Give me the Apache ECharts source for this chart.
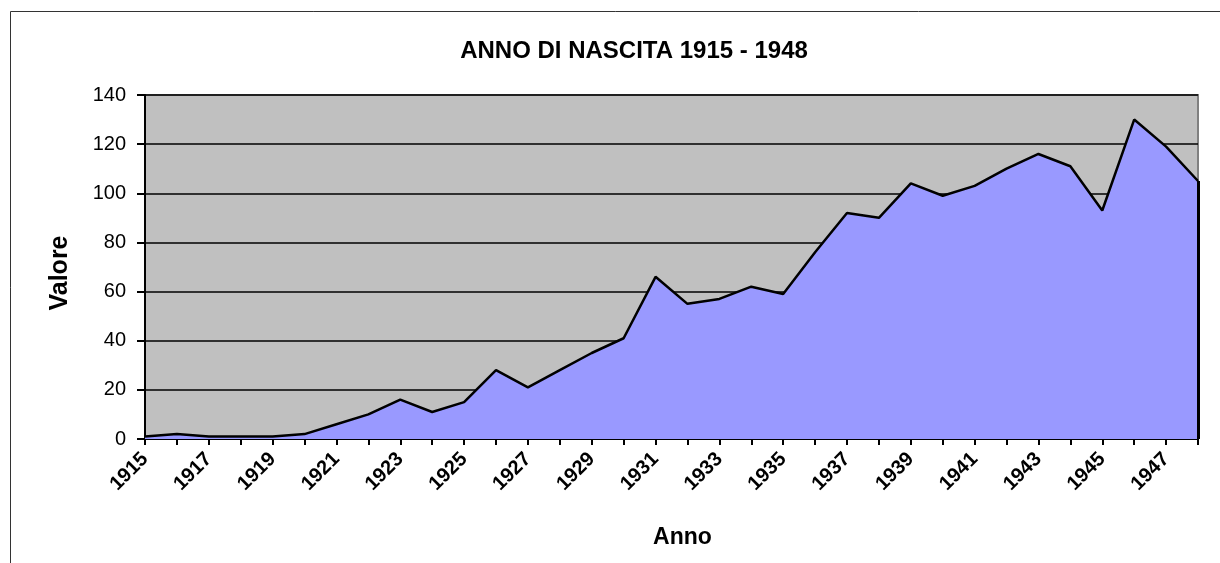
<!DOCTYPE html>
<html>
<head>
<meta charset="utf-8">
<script src="https://cdn.jsdelivr.net/npm/echarts@6/dist/echarts.min.js"></script>
<style>
  html, body { margin: 0; padding: 0; background: #fff; }
  #main { width: 1220px; height: 563px; }
</style>
</head>
<body>
<div id="main"></div>
<script>
// anni 1915 - 1948
var anni = [];
for (var a = 1915; a <= 1948; a++) anni.push(String(a));

// valori
var valori = [1, 2, 1, 1, 1, 2, 6, 10, 16, 11, 15, 28, 21, 28, 35, 41,
              66, 55, 57, 62, 59, 76, 92, 90, 104, 99, 103, 110, 116, 111,
              93, 130, 119, 105];

var yTicks = [0, 20, 40, 60, 80, 100, 120, 140];

var chart = echarts.init(document.getElementById('main'), null, { renderer: 'canvas' });

var font = 'Liberation Sans, Arial, sans-serif';
var ultimo = anni.length - 1;

var option = {
  backgroundColor: '#fff',
  animation: false,
  title: {
    text: 'ANNO DI NASCITA 1915 - 1948',
    left: 629,
    top: 34,
    textAlign: 'center',
    textStyle: { fontFamily: font, fontSize: 24, fontWeight: 'bold', color: '#000' }
  },
  graphic: [{
    type: 'rect',
    shape: { x: 10.5, y: 11.5, width: 1400, height: 800 },
    style: { fill: 'none', stroke: '#333', lineWidth: 1 },
    silent: true
  }],
  grid: {
    left: 145, right: 22, top: 95, bottom: 124,
    show: true,
    backgroundColor: '#C0C0C0',
    borderColor: '#808080',
    borderWidth: 2
  },
  xAxis: {
    type: 'category',
    data: anni,
    boundaryGap: false,
    name: 'Anno',
    nameLocation: 'middle',
    nameGap: 87,
    nameTextStyle: { fontFamily: font, fontSize: 23, fontWeight: 'bold', color: '#000',
                     padding: [0, 0, 0, 22] },
    axisLine: { show: true, lineStyle: { color: '#000', width: 2 } },
    axisTick: { show: true, interval: 0, length: 6, lineStyle: { color: '#000', width: 2 } },
    axisLabel: {
      interval: 1,
      rotate: 45,
      margin: 17,
      fontFamily: font,
      fontSize: 20,
      fontWeight: 'bold',
      color: '#000'
    },
    splitLine: { show: false }
  },
  yAxis: {
    type: 'value',
    min: 0,
    max: yTicks[yTicks.length - 1],
    interval: 20,
    name: 'Valore',
    nameLocation: 'middle',
    nameGap: 72,
    nameRotate: 90,
    nameTextStyle: { fontFamily: font, fontSize: 25, fontWeight: 'bold', color: '#000',
                     padding: [0, 12, 0, 0] },
    axisLine: { show: true, lineStyle: { color: '#000', width: 2 } },
    axisTick: { show: true, length: 8, lineStyle: { color: '#000', width: 2 } },
    axisLabel: { margin: 19, fontFamily: font, fontSize: 20, color: '#000' },
    splitLine: { show: true, lineStyle: { color: '#000', width: 1.5 } }
  },
  series: [{
    type: 'line',
    data: valori,
    symbol: 'none',
    smooth: false,
    lineStyle: { color: '#000', width: 2.5 },
    areaStyle: { color: '#9999FF', opacity: 1 },
    z: 3,
    markLine: {
      silent: true,
      symbol: 'none',
      label: { show: false },
      lineStyle: { color: '#000', width: 3, type: 'solid' },
      data: [[
        { coord: [anni[ultimo], 0] },
        { coord: [anni[ultimo], valori[ultimo]] }
      ]]
    }
  }]
};

chart.setOption(option);
</script>
</body>
</html>
